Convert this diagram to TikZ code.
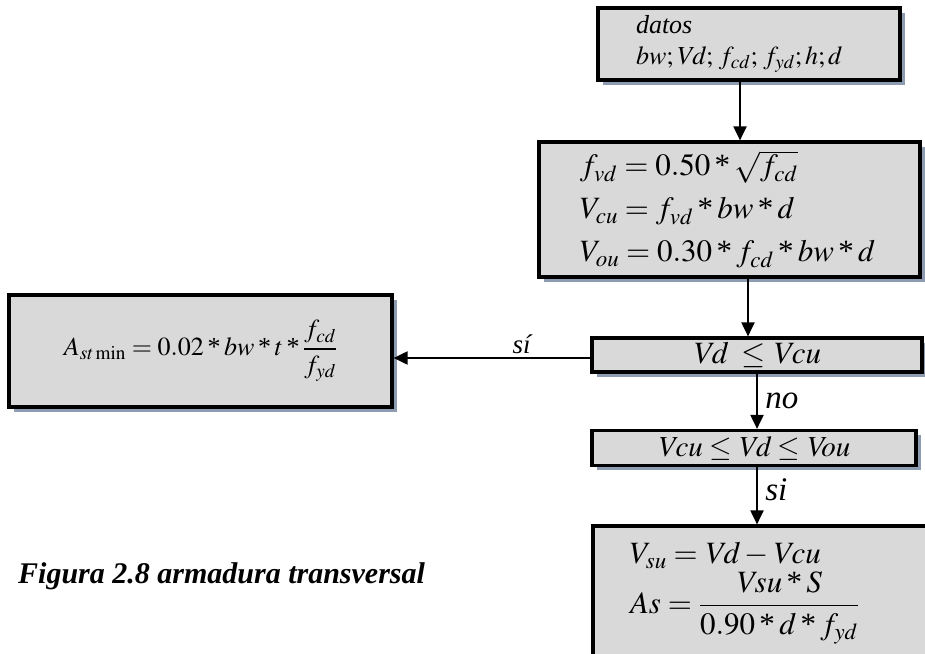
\documentclass[tikz,border=0pt]{standalone}
\usepackage{amsmath}
\usepackage{mathptmx}
\usepackage[no-math]{fontspec}
\setmainfont{Liberation Serif}
\usepackage{xcolor}
\usepackage{tikz}
\usetikzlibrary{arrows.meta,positioning,shadows}

\definecolor{cajagris}{HTML}{D9D9D9}
\definecolor{sombra}{HTML}{8D9CB0}
\newcommand{\por}{\mathbin{\text{*}}}
\newcommand{\vr}[1]{\mathit{#1}}

\begin{document}
\begin{tikzpicture}[
    x=1pt, y=-1pt,
    caja/.style={draw, line width=3.2pt, fill=cajagris, inner sep=0pt,
        drop shadow={shadow xshift=4.5pt, shadow yshift=-4.5pt, fill=sombra, opacity=1}},
    flecha/.style={-{Triangle[length=14pt,width=13pt]}, line width=2pt},
    etiq/.style={font=\fontsize{33}{33}\selectfont\itshape, xshift=4pt}
]
\useasboundingbox (0,0) rectangle (925,653);
\clip (0,0) rectangle (925,653);

\node[caja, minimum width=302pt, minimum height=72pt, text width=226pt, align=left,
      font=\fontsize{26}{31}\selectfont\itshape] (datos) at (749,44)
      {datos\\$\vr{bw};\vr{Vd};\,f_{cd};\,f_{yd};\vr{h};\vr{d}$};
\node[caja, minimum width=381pt, minimum height=135pt, text width=299pt, align=left,
      font=\fontsize{31}{43}\selectfont] (calc) at (729.5,209.5)
      {$f_{vd}=0.50\por\sqrt{f_{cd}}$\\$V_{cu}=f_{vd}\por \vr{bw}\por d$\\$V_{ou}=0.30\por f_{cd}\por \vr{bw}\por d$};
\node[caja, minimum width=330pt, minimum height=34pt,
      font=\fontsize{31}{30}\selectfont] (cond1) at (757,355) {$\vr{Vd}\;\le\vr{Vcu}$};
\node[caja, minimum width=324pt, minimum height=35pt,
      font=\fontsize{29}{30}\selectfont] (cond2) at (754,448) {$\vr{Vcu}\le\vr{Vd}\le\vr{Vou}$};
\node[caja, minimum width=342pt, minimum height=135pt, text width=268pt, align=left,
      font=\fontsize{31}{36}\selectfont] (armad) at (764,593.5)
      {$V_{su}=\vr{Vd}-\vr{Vcu}$\\[2pt]$\vr{As}=\dfrac{\vr{Vsu}\por S}{0.90\por d\por f_{yd}}$};
\node[caja, minimum width=383pt, minimum height=112pt,
      font=\fontsize{26}{30}\selectfont] (amin) at (200.5,351)
      {$A_{st\,\mathrm{min}}=0.02\por \vr{bw}\por t\por\dfrac{f_{cd}}{f_{yd}}$};

\node[anchor=base west, inner sep=0pt, font=\fontsize{30}{32}\selectfont\bfseries\itshape]
      (pie) at (18,583) {Figura 2.8 armadura transversal};

\draw[flecha] ([xshift=-9pt]datos.south) -- ([xshift=-9pt]datos.south |- calc.north);
\draw[flecha] ([xshift=18.5pt]calc.south) -- ([xshift=18.5pt]calc.south |- cond1.north);
\draw[flecha] (cond1.south) -- node[etiq, right] {no} (cond1.south |- cond2.north);
\draw[flecha] (cond1.south |- cond2.south) -- node[etiq, right, pos=0.4] {si} (cond1.south |- armad.north);
\draw[flecha] ([yshift=-3pt]cond1.west) -- node[etiq, above, pos=0.35, xshift=-4pt, font=\fontsize{27}{27}\selectfont\itshape] {sí} ([yshift=-3pt]cond1.west -| amin.east);
\end{tikzpicture}
\end{document}
